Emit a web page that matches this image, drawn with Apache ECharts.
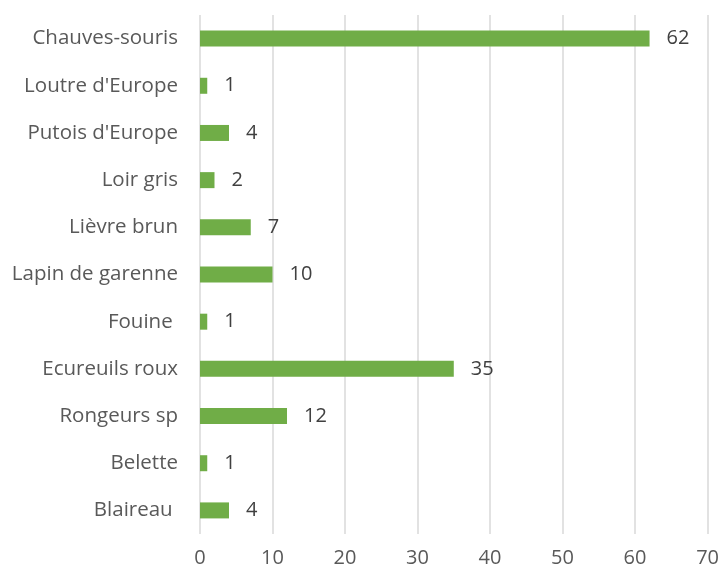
<!DOCTYPE html>
<html>
<head>
<meta charset="utf-8">
<script src="https://cdn.jsdelivr.net/npm/echarts@6/dist/echarts.min.js"></script>
<style>
  html, body { margin: 0; padding: 0; background: #ffffff; }
  #chart { width: 722px; height: 574px; }
</style>
</head>
<body>
<div id="chart"></div>
<script>
// Species, listed bottom to top as drawn on the category axis
const species = [
  'Blaireau ', 'Belette', 'Rongeurs sp', 'Ecureuils roux', 'Fouine ',
  'Lapin de garenne', 'Lièvre brun', 'Loir gris', "Putois d'Europe",
  "Loutre d'Europe", 'Chauves-souris'
];
const counts = [4, 1, 12, 35, 1, 10, 7, 2, 4, 1, 62];
const xTicks = { min: 0, max: 70, step: 10 };

const chart = echarts.init(document.getElementById('chart'), null, { renderer: 'canvas' });
const fontFamily = '"Open Sans", "Noto Sans", sans-serif';

chart.setOption({
  animation: false,
  backgroundColor: '#ffffff',
  grid: { left: 200, right: 14, top: 15, bottom: 40, containLabel: false },
  xAxis: {
    type: 'value',
    min: xTicks.min,
    max: xTicks.max,
    interval: xTicks.step,
    axisLine: { show: false },
    axisTick: { show: false },
    splitLine: { show: true, lineStyle: { color: '#d9d9d9', width: 1.5 } },
    axisLabel: { color: '#595959', fontSize: 20, fontFamily: fontFamily, margin: 14 }
  },
  yAxis: {
    type: 'category',
    data: species,
    axisLine: { show: false },
    axisTick: { show: false },
    axisLabel: { color: '#595959', fontSize: 20.5, fontFamily: fontFamily, margin: 22 }
  },
  series: [{
    type: 'bar',
    data: counts,
    barWidth: 16,
    itemStyle: { color: '#70ad47' },
    label: {
      show: true,
      position: 'right',
      distance: 17,
      color: '#404040',
      fontSize: 20,
      fontFamily: fontFamily
    }
  }]
});
</script>
</body>
</html>
